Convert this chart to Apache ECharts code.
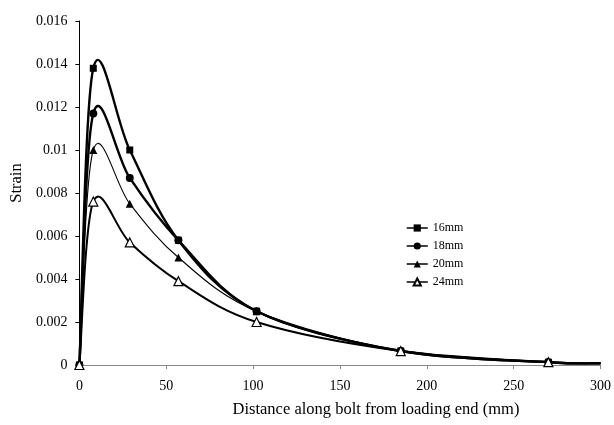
<!DOCTYPE html>
<html><head><meta charset="utf-8">
<script src="https://cdn.jsdelivr.net/npm/echarts/dist/echarts.min.js"></script>
<style>html,body{margin:0;padding:0;background:#fff}#c{width:614px;height:425px}</style>
</head><body><div id="c"></div>
<script>
// ---- data ----
const distances = [0, 8, 29, 57, 102, 185, 270];
const endDistance = 300;               // curve continues to bolt end (no marker)
const strain16 = [0, 0.0138, 0.0100, 0.0058, 0.0025, 0.00065, 0.00013];
const strain18 = [0, 0.0117, 0.0087, 0.0058, 0.0025, 0.00065, 0.00013];
const strain20 = [0, 0.0100, 0.0075, 0.0050, 0.0025, 0.00065, 0.00013];
const strain24 = [0, 0.0076, 0.0057, 0.0039, 0.0020, 0.00065, 0.00013];
const endStrain = [0.00008, 0.00008, 0.00008, 0.00008];
const seriesNames = ['16mm', '18mm', '20mm', '24mm'];

const FONT = 'Liberation Serif';
const allStrain = [strain16, strain18, strain20, strain24];
const curveWidths = [2.4, 2.4, 1.1, 2.0];
const symbols = ['rect', 'circle', 'triangle', 'triangle'];
const symbolSizes = [7, 8, 8, 9];
const symbolFill = ['#000', '#000', '#000', '#fff'];

function curveSeries(idx) {
  const vals = allStrain[idx];
  const pts = distances.map((d, i) => [d, vals[i]]).concat([[endDistance, endStrain[idx]]]);
  return {
    type: 'custom', name: seriesNames[idx] + '-curve', coordinateSystem: 'cartesian2d',
    data: [[0, 0]], silent: true, z: 2, animation: false,
    renderItem: function (params, api) {
      const p = pts.map(q => api.coord(q));
      const children = [];
      for (let i = 0; i < p.length - 1; i++) {
        const p0 = p[Math.max(0, i - 1)], p1 = p[i], p2 = p[i + 1], p3 = p[Math.min(p.length - 1, i + 2)];
        children.push({
          type: 'bezierCurve',
          shape: {
            x1: p1[0], y1: p1[1], x2: p2[0], y2: p2[1],
            cpx1: p1[0] + (p2[0] - p0[0]) / 6, cpy1: p1[1] + (p2[1] - p0[1]) / 6,
            cpx2: p2[0] - (p3[0] - p1[0]) / 6, cpy2: p2[1] - (p3[1] - p1[1]) / 6
          },
          style: { stroke: '#000', lineWidth: curveWidths[idx], fill: null }
        });
      }
      return { type: 'group', children: children };
    }
  };
}

function markerSeries(idx) {
  return {
    type: 'line', name: seriesNames[idx],
    data: distances.map((d, i) => [d, allStrain[idx][i]]),
    symbol: symbols[idx], symbolSize: symbolSizes[idx], showAllSymbol: true,
    itemStyle: { color: symbolFill[idx], borderColor: '#000', borderWidth: idx === 3 ? 1.2 : 0 },
    lineStyle: { opacity: 0, width: 0 },
    emphasis: { disabled: true }, z: 3, animation: false
  };
}

const series = [];
for (let i = 0; i < 4; i++) series.push(curveSeries(i));
for (let i = 0; i < 4; i++) series.push(markerSeries(i));

const chart = echarts.init(document.getElementById('c'), null, { renderer: 'canvas' });
chart.setOption({
  animation: false,
  backgroundColor: '#fff',
  grid: { left: 79, right: 8, top: 21, bottom: 60, containLabel: false },
  legend: {
    data: seriesNames, orient: 'vertical', left: 401, top: 217,
    itemWidth: 21, itemHeight: 9, itemGap: 6,
    textStyle: { fontFamily: FONT, fontSize: 12, color: '#000' },
    lineStyle: { opacity: 1, width: 1.5, color: '#000' },
    selectedMode: false
  },
  xAxis: {
    type: 'value', min: 0, max: 300, interval: 50,
    name: 'Distance along bolt from loading end (mm)', nameLocation: 'middle', nameGap: 36,
    nameTextStyle: { fontFamily: FONT, fontSize: 16.5, color: '#000', padding: [0, 0, 0, 72] },
    axisLine: { lineStyle: { color: '#888', width: 1 } },
    axisTick: { show: true, inside: false, length: 4, lineStyle: { color: '#888' } },
    axisLabel: { fontFamily: FONT, fontSize: 14, color: '#000', margin: 14 },
    splitLine: { show: false }
  },
  yAxis: {
    type: 'value', min: 0, max: 0.016, interval: 0.002,
    name: 'Strain', nameLocation: 'middle', nameGap: 50,
    nameTextStyle: { fontFamily: FONT, fontSize: 16.5, color: '#000', padding: [0, 0, 0, 20] },
    axisLine: { show: true, lineStyle: { color: '#000', width: 1 } },
    axisTick: { show: true, inside: false, length: 4, lineStyle: { color: '#000' } },
    axisLabel: { fontFamily: FONT, fontSize: 14, color: '#000', margin: 12 },
    splitLine: { show: false }
  },
  series: series
});
</script></body></html>
